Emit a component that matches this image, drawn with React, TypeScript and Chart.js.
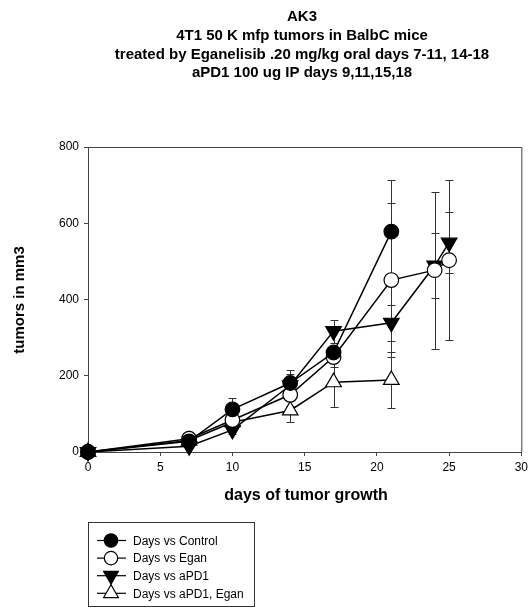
import React, { useEffect, useRef } from "react";
import { Chart, registerables } from "chart.js";

Chart.register(...registerables);

const titleLines = [
  "AK3",
  "4T1 50 K mfp tumors in BalbC mice",
  "treated by Eganelisib .20 mg/kg oral days 7-11, 14-18",
  "aPD1 100 ug IP days 9,11,15,18",
];
const xTitle = "days of tumor growth";
const yTitle = "tumors in mm3";

const seriesNames = ["Days vs Control", "Days vs Egan", "Days vs aPD1", "Days vs aPD1, Egan"];

const controlDays = [0, 7, 10, 14, 17, 21];
const controlVals = [0, 28, 112, 181, 261, 578];
const controlErr = [0, 5, 29, 33, 15, 136];

const eganDays = [0, 7, 10, 14, 17, 21, 24, 25];
const eganVals = [0, 35, 84, 150, 249, 451, 477, 503];
const eganErr = [0, 5, 15, 30, 25, 203, 206, 210];

const apd1Days = [0, 7, 10, 14, 17, 21, 24, 25];
const apd1Vals = [0, 15, 58, 175, 317, 339, 489, 549];
const apd1Err = [0, 4, 10, 30, 30, 47, 85, 80];

const comboDays = [0, 7, 10, 14, 17, 21];
const comboVals = [0, 30, 78, 109, 183, 189];
const comboErr = [0, 5, 10, 29, 65, 73];

const FONT = "'Liberation Sans', Arial, sans-serif";

type Marker = { style: string; fill: string; rot: number; r: number; lr: number };
const markers: Marker[] = [
  { style: "circle", fill: "#000", rot: 0, r: 7.3, lr: 6.7 },
  { style: "circle", fill: "#fff", rot: 0, r: 7.3, lr: 6.7 },
  { style: "triangle", fill: "#000", rot: 180, r: 9, lr: 8.5 },
  { style: "triangle", fill: "#fff", rot: 0, r: 9, lr: 8.5 },
];

const allDays = [controlDays, eganDays, apd1Days, comboDays];
const allVals = [controlVals, eganVals, apd1Vals, comboVals];
const allErr = [controlErr, eganErr, apd1Err, comboErr];

function drawMarker(ctx: CanvasRenderingContext2D, m: Marker, x: number, y: number, r: number) {
  ctx.beginPath();
  if (m.style === "circle") {
    ctx.arc(x, y, r, 0, Math.PI * 2);
  } else {
    const dir = m.rot === 180 ? -1 : 1;
    ctx.moveTo(x, y - dir * r);
    ctx.lineTo(x - r * 0.866, y + dir * r * 0.5);
    ctx.lineTo(x + r * 0.866, y + dir * r * 0.5);
    ctx.closePath();
  }
  ctx.fillStyle = m.fill;
  ctx.fill();
  ctx.lineWidth = 1.2;
  ctx.strokeStyle = "#000";
  ctx.stroke();
}

const decorPlugin = {
  id: "decor",
  beforeDatasetsDraw(chart: any) {
    const ctx = chart.ctx as CanvasRenderingContext2D;
    const xs = chart.scales.x;
    const ys = chart.scales.y;
    ctx.save();
    ctx.strokeStyle = "#333";
    ctx.lineWidth = 1;
    for (let s = 0; s < allDays.length; s++) {
      for (let i = 0; i < allDays[s].length; i++) {
        const e = allErr[s][i];
        if (!e) continue;
        const px = Math.round(xs.getPixelForValue(allDays[s][i])) + 0.5;
        const top = Math.round(ys.getPixelForValue(allVals[s][i] + e)) + 0.5;
        const bot = Math.round(ys.getPixelForValue(allVals[s][i] - e)) + 0.5;
        ctx.beginPath();
        ctx.moveTo(px, top);
        ctx.lineTo(px, bot);
        ctx.moveTo(px - 4, top);
        ctx.lineTo(px + 4, top);
        ctx.moveTo(px - 4, bot);
        ctx.lineTo(px + 4, bot);
        ctx.stroke();
      }
    }
    // plot frame
    const a = chart.chartArea;
    ctx.strokeStyle = "#444";
    ctx.beginPath();
    ctx.moveTo(a.left, a.top + 0.5);
    ctx.lineTo(a.right + 0.5, a.top + 0.5);
    ctx.lineTo(a.right + 0.5, a.bottom);
    ctx.stroke();
    ctx.restore();
  },
  afterDraw(chart: any) {
    const ctx = chart.ctx as CanvasRenderingContext2D;
    ctx.save();
    ctx.fillStyle = "#000";
    ctx.textAlign = "center";
    ctx.textBaseline = "middle";
    ctx.font = `bold 15px ${FONT}`;
    const ty = [17, 36, 54.5, 73];
    titleLines.forEach((t, i) => ctx.fillText(t, 302, ty[i]));

    ctx.font = `bold 16px ${FONT}`;
    ctx.fillText(xTitle, 306, 496);

    ctx.save();
    ctx.translate(20, 300);
    ctx.rotate(-Math.PI / 2);
    ctx.font = `bold 15px ${FONT}`;
    ctx.fillText(yTitle, 0, 0);
    ctx.restore();

    // legend
    ctx.strokeStyle = "#333";
    ctx.lineWidth = 1;
    ctx.strokeRect(88.5, 522.5, 166, 84);
    ctx.textAlign = "left";
    ctx.font = `12px ${FONT}`;
    seriesNames.forEach((n, i) => {
      const y = 540.5 + i * 17.6;
      ctx.strokeStyle = "#000";
      ctx.lineWidth = 1.2;
      ctx.beginPath();
      ctx.moveTo(97, y);
      ctx.lineTo(126, y);
      ctx.stroke();
      drawMarker(ctx, markers[i], 111, y, markers[i].lr);
      ctx.fillStyle = "#000";
      ctx.fillText(n, 133, y + 1);
    });
    ctx.restore();
  },
};

export default function App() {
  const ref = useRef<HTMLCanvasElement>(null);
  useEffect(() => {
    if (!ref.current) return;
    const datasets = allDays.map((d, s) => ({
      label: seriesNames[s],
      data: d.map((x, i) => ({ x, y: allVals[s][i] })),
      showLine: true,
      borderColor: "#000",
      borderWidth: 1.5,
      pointStyle: markers[s].style as any,
      pointRotation: markers[s].rot,
      pointRadius: markers[s].r,
      pointBackgroundColor: markers[s].fill,
      pointBorderColor: "#000",
      pointBorderWidth: 1.2,
      clip: false as any,
    }));
    const chart = new Chart(ref.current, {
      type: "scatter",
      data: { datasets },
      options: {
        animation: false,
        responsive: false,
        devicePixelRatio: 1,
        layout: { padding: { top: 147, left: 0, right: 9, bottom: 127 } },
        plugins: { legend: { display: false }, title: { display: false }, tooltip: { enabled: false } },
        scales: {
          x: {
            type: "linear",
            min: 0,
            max: 30,
            ticks: { stepSize: 5, color: "#000", font: { family: FONT, size: 12 }, padding: 4, maxRotation: 0 },
            grid: { display: true, drawOnChartArea: false, drawTicks: true, tickLength: 4, color: "#444" },
            border: { display: true, color: "#444", width: 1 },
            afterFit: (s: any) => { s.height = 30; },
          },
          y: {
            type: "linear",
            min: 0,
            max: 800,
            ticks: { stepSize: 200, color: "#000", font: { family: FONT, size: 12 }, padding: 5 },
            grid: { display: true, drawOnChartArea: false, drawTicks: true, tickLength: 4, color: "#444" },
            border: { display: true, color: "#444", width: 1 },
            afterFit: (s: any) => { s.width = 88; },
          },
        },
      },
      plugins: [decorPlugin],
    });
    return () => chart.destroy();
  }, []);
  return (
    <div style={{ position: "absolute", left: 0, top: 0, width: 532, height: 609, background: "#fff" }}>
      <canvas ref={ref} width={532} height={609} />
    </div>
  );
}
